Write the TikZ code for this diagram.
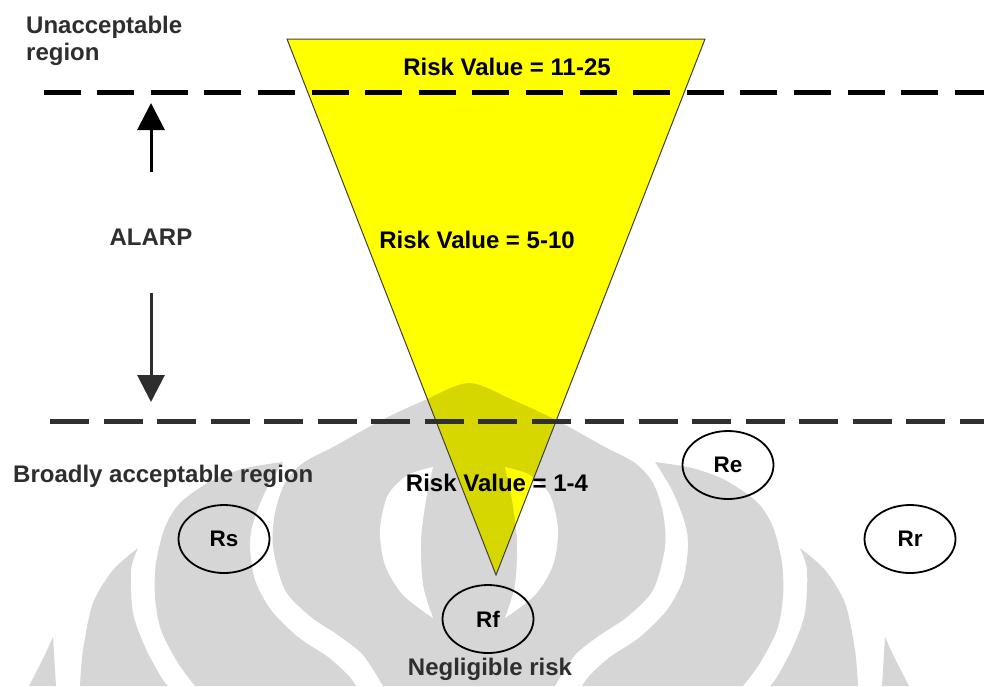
\documentclass[tikz,border=0pt]{standalone}
\usepackage{fontspec}
\setmainfont{Liberation Sans}
\usetikzlibrary{arrows.meta,shapes.geometric}

\definecolor{wmgrey}{HTML}{D6D6D6}
\definecolor{wmyellow}{HTML}{D6D600}
\definecolor{conefill}{HTML}{FFFF00}
\definecolor{labelgrey}{HTML}{2E2E2E}
\definecolor{dashgrey}{HTML}{303030}

% Background emblem: #1 = ink colour, #2 = paper colour
\newcommand{\emblem}[2]{%
  % central arch band
  \fill[#1] plot[smooth] coordinates {(383,686)(363,655)(338,635)(311,617)(285,590)(273,547)(275,513)(285,483)(303,463)(335,446)(380,421)(425,400)(469,383)(513,400)(558,421)(603,446)(635,463)(653,483)(663,513)(665,547)(653,590)(627,617)(600,635)(575,655)(555,686)} -- cycle;
  % right arm
  \fill[#1] plot[smooth] coordinates {(655,462)(692,468)(725,480)(757,502)(773,527)(782,563)(783,597)(777,630)(760,663)(743,686)}
     -- plot[smooth] coordinates {(582,686)(590,675)(610,657)(640,637)(667,610)(683,580)(688,547)(685,523)(672,490)(655,462)} -- cycle;
  % left arm
  \fill[#1] plot[smooth] coordinates {(283,462)(246,468)(213,480)(181,502)(165,527)(156,563)(155,597)(161,630)(178,663)(195,686)}
     -- plot[smooth] coordinates {(356,686)(348,675)(328,657)(298,637)(271,610)(255,580)(250,547)(253,523)(266,490)(283,462)} -- cycle;
  % right outer crescent
  \fill[#1] plot[smooth] coordinates {(800,548)(825,570)(845,603)(855,650)(858,686)}
     -- plot[smooth] coordinates {(770,686)(777,677)(793,647)(805,613)(807,570)(800,548)} -- cycle;
  % left outer crescent
  \fill[#1] plot[smooth] coordinates {(138,548)(113,570)(93,603)(83,650)(80,686)}
     -- plot[smooth] coordinates {(168,686)(161,677)(145,647)(133,613)(131,570)(138,548)} -- cycle;
  % outermost slivers
  \fill[#1] (885,637) .. controls (893,655) .. (909,686) -- (882,686) -- cycle;
  \fill[#1] (53,637) .. controls (45,655) .. (29,686) -- (56,686) -- cycle;
  % inner openings
  \fill[#2] plot[smooth] coordinates {(505,467)(530,475)(550,495)(558,530)(553,565)(535,595)(505,618)}
     -- plot[smooth] coordinates {(505,618)(515,585)(517,540)(512,500)(505,467)} -- cycle;
  \fill[#2] plot[smooth] coordinates {(433,467)(408,475)(388,495)(380,530)(385,565)(403,595)(433,618)}
     -- plot[smooth] coordinates {(433,618)(423,585)(421,540)(426,500)(433,467)} -- cycle;
}

\tikzset{
  sidelabel/.style={font=\bfseries\fontsize{24}{27}\selectfont, text=labelgrey, inner sep=0pt},
  risklabel/.style={font=\bfseries\fontsize{24}{27}\selectfont, text=black, inner sep=0pt},
  riskcircle/.style={ellipse, draw=black, line width=1.8pt, minimum width=91pt,
    minimum height=68pt, inner sep=0pt, font=\bfseries\fontsize{22.5}{25}\selectfont},
  bigarrow/.style={line width=3pt, -{Triangle[length=27pt,width=27pt]}},
  boundary/.style={line width=5pt},
}

\begin{document}
\begin{tikzpicture}[x=1pt,y=-1pt]
  \useasboundingbox (0,0) rectangle (984,686);
  \fill[white] (0,0) rectangle (984,686);

  % emblem behind everything
  \emblem{wmgrey}{white}

  % the risk cone
  \coordinate (coneL) at (287,39);
  \coordinate (coneR) at (705,39);
  \coordinate (coneTip) at (496,575);
  \fill[conefill] (coneL) -- (coneR) -- (coneTip) -- cycle;
  \begin{scope}
    \clip (coneL) -- (coneR) -- (coneTip) -- cycle;
    \emblem{wmyellow}{conefill}
  \end{scope}
  \draw[black!75, line width=1pt, line join=miter] (coneL) -- (coneR) -- (coneTip) -- cycle;

  % region boundaries
  \coordinate (upperA) at (43.5,92);
  \coordinate (upperB) at (990,92);
  \coordinate (lowerA) at (50,421);
  \coordinate (lowerB) at (990,421);
  \draw[boundary, black, dash pattern=on 37pt off 16.6pt] (upperA) -- (upperB);
  \draw[boundary, dashgrey, dash pattern=on 39pt off 14.5pt] (lowerA) -- (lowerB);

  % labels
  \node[sidelabel, anchor=north west, align=left] (unacc) at (26,15.5) {Unacceptable\\region};
  \node[sidelabel, anchor=center] (alarp) at (151,237) {ALARP};
  \node[sidelabel, anchor=base west] (broad) at (13,482) {Broadly acceptable region};
  \node[sidelabel, anchor=base] (neglig) at (490,675) {Negligible risk};

  \node[risklabel] (rv1) at (507,67) {Risk Value = 11-25};
  \node[risklabel] (rv2) at (477,240) {Risk Value = 5-10};
  \node[risklabel] (rv3) at (497,483) {Risk Value = 1-4};

  % ALARP arrows
  \coordinate (upTail) at (151,172);
  \coordinate (upTip) at (151,103);
  \coordinate (downTail) at (151,293);
  \coordinate (downTip) at (151,402);
  \draw[bigarrow, black] (upTail) -- (upTip);
  \draw[bigarrow, labelgrey] (downTail) -- (downTip);

  % risk items
  \node[riskcircle] (rs) at (224,539) {Rs};
  \node[riskcircle] (re) at (728,465) {Re};
  \node[riskcircle] (rr) at (910,539) {Rr};
  \node[riskcircle] (rf) at (488,619) {Rf};
\end{tikzpicture}
\end{document}
